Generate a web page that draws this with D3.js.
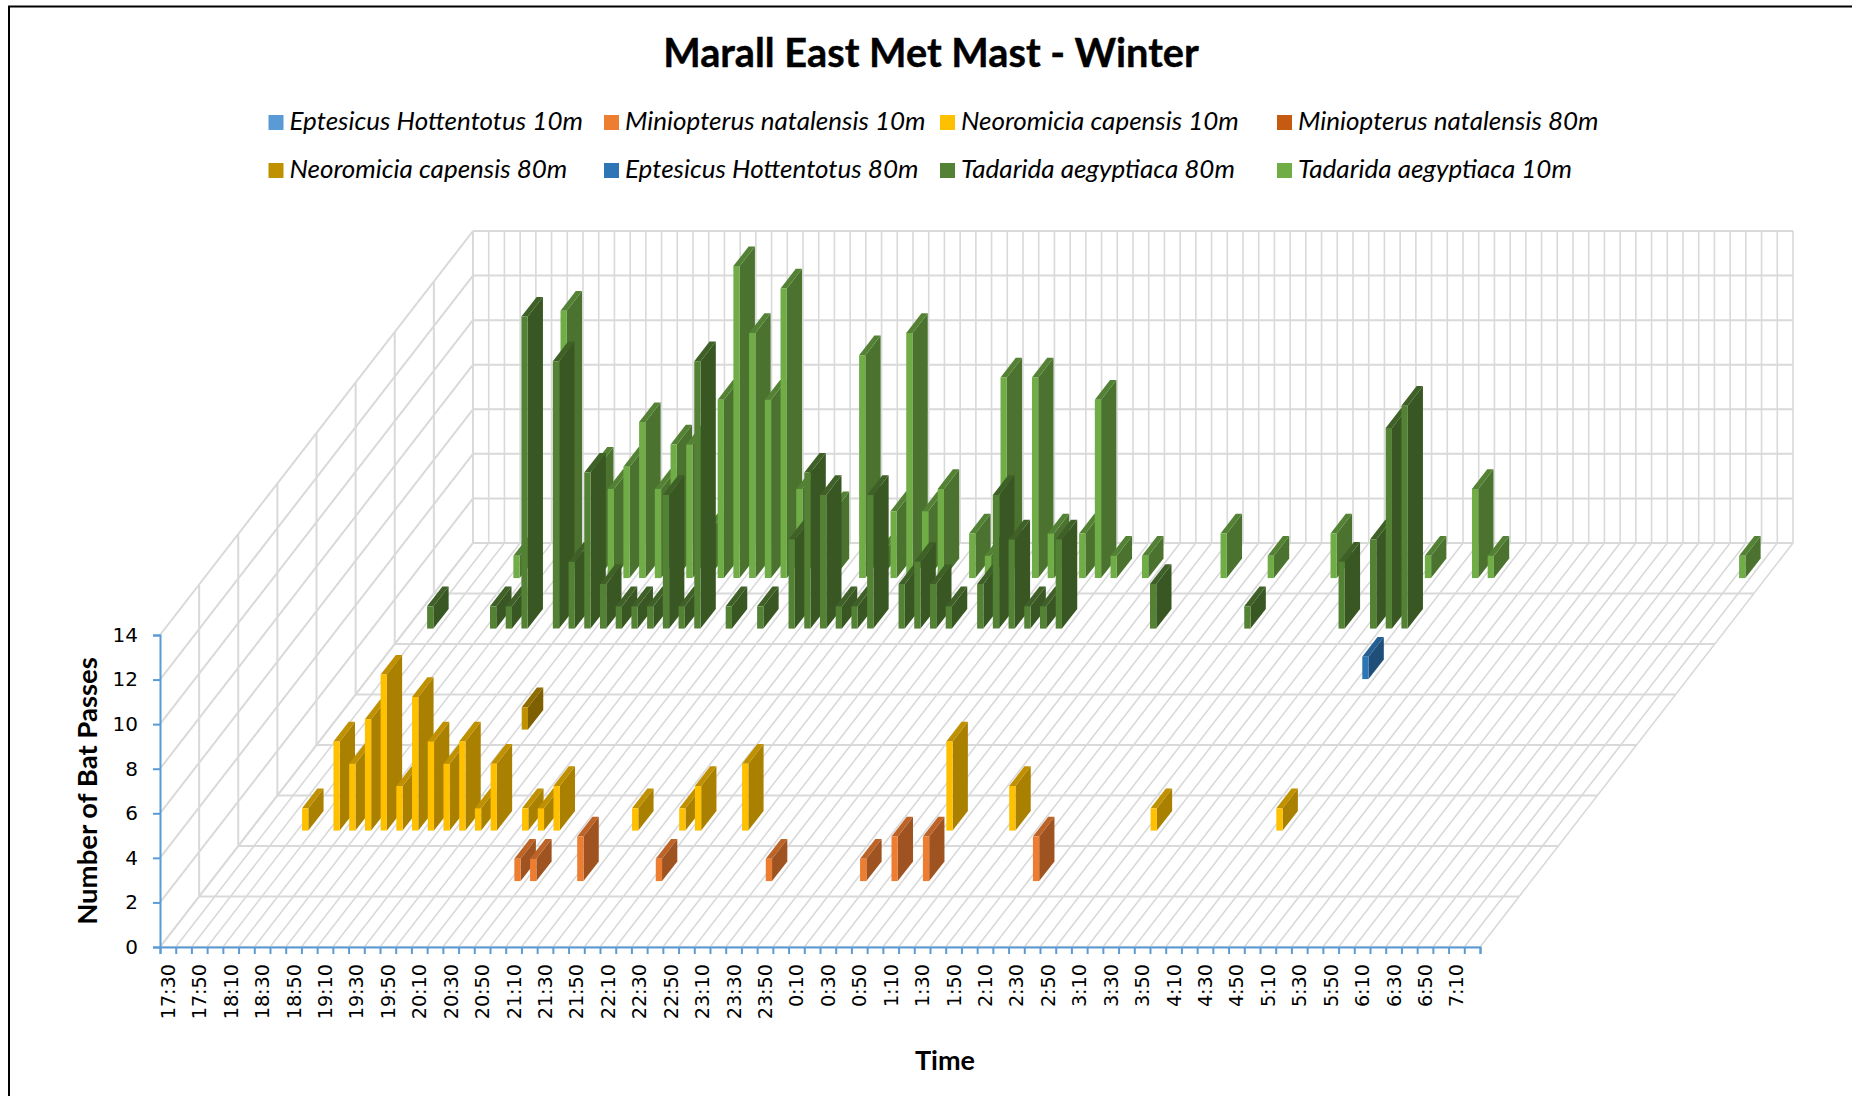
<!DOCTYPE html>
<html><head><meta charset="utf-8">
<style>html,body{margin:0;padding:0;background:#fff;overflow:hidden}svg{display:block}</style>
<script src="https://cdn.jsdelivr.net/npm/d3@7"></script></head>
<body><svg id="c" width="1852" height="1096"></svg>
<script>
const title = "Marall East Met Mast - Winter";
const labelsEvery2 = ["17:30","17:50","18:10","18:30","18:50","19:10","19:30","19:50","20:10","20:30","20:50","21:10","21:30","21:50","22:10","22:30","22:50","23:10","23:30","23:50","0:10","0:30","0:50","1:10","1:30","1:50","2:10","2:30","2:50","3:10","3:30","3:50","4:10","4:30","4:50","5:10","5:30","5:50","6:10","6:30","6:50","7:10"];
// [category index, passes] pairs
const eptesicus10 = [];
const miniopterus10 = [[19,1],[20,1],[23,2],[28,1],[35,1],[41,1],[43,2],[45,2],[52,2]];
const neoromicia10 = [[3,1],[5,4],[6,3],[7,5],[8,7],[9,2],[10,6],[11,4],[12,3],[13,4],[14,1],[15,3],[17,1],[18,1],[19,2],[24,1],[27,1],[28,2],[31,3],[44,4],[48,2],[57,1],[65,1]];
const miniopterus80 = [];
const neoromicia80 = [[12,1]];
const eptesicus80 = [[63,1]];
const tadarida80 = [[1,1],[5,1],[6,1],[7,14],[9,12],[10,3],[11,7],[12,2],[13,1],[14,1],[15,1],[16,6],[17,1],[18,12],[20,1],[22,1],[24,4],[25,7],[26,6],[27,1],[28,1],[29,6],[31,2],[32,3],[33,2],[34,1],[36,2],[37,6],[38,4],[39,1],[40,1],[41,4],[47,2],[53,1],[59,3],[61,4],[62,9],[63,10]];
const tadarida10 = [[4,1],[7,12],[9,5],[10,4],[11,5],[12,7],[13,4],[14,6],[15,6],[16,2],[17,8],[18,14],[19,11],[20,8],[21,13],[22,4],[24,3],[26,10],[27,1],[28,3],[29,11],[30,3],[31,4],[33,2],[34,1],[35,9],[37,9],[38,2],[40,2],[41,8],[42,1],[44,1],[49,2],[52,1],[56,2],[62,1],[65,4],[66,1],[82,1]];
const seriesNames = ["Eptesicus Hottentotus 10m","Miniopterus natalensis 10m","Neoromicia capensis 10m","Miniopterus natalensis 80m","Neoromicia capensis 80m","Eptesicus Hottentotus 80m","Tadarida aegyptiaca 80m","Tadarida aegyptiaca 10m"];
const seriesValues = [eptesicus10,miniopterus10,neoromicia10,miniopterus80,neoromicia80,eptesicus80,tadarida80,tadarida10];
const seriesFront = ["#5B9BD5","#ED7D31","#FFC000","#C55A11","#BF9000","#2E75B6","#548235","#70AD47"];
const seriesSide  = ["#3C6E9C","#9E5320","#AA8000","#833C0B","#7F6000","#1F4E79","#385723","#4B732F"];
const seriesTop   = ["#4A85BA","#BD6328","#BF9000","#9C470D","#8F6C00","#255E92","#3F6128","#548235"];
const gridColor = "#D9D9D9", axisColor = "#5B9BD5";
const categoryCount = 84;

// oblique projection: floor origin, width along x, depth vector, wall height
const ox = 160, oy = 947, plotW = 1320, plotH = 312, depthX = 313, depthY = 404;
const svg = d3.select("#c");
const xScale = d3.scaleBand().domain(d3.range(categoryCount)).range([0, plotW]);
const yScale = d3.scaleLinear().domain([0,14]).range([0, plotH]);
const dScale = d3.scaleLinear().domain([0,8]).range([0,1]);
const P = (x, v, d) => [ox + x + depthX*dScale(d), oy - yScale(v) - depthY*dScale(d)];
const line = (a,b) => ({a,b});

// frame
svg.append("path").attr("d","M9,1096V6.5H1852").attr("fill","none").attr("stroke","#000").attr("stroke-width",2);

// gridlines
const grid = [];
xScale.domain().concat([categoryCount]).forEach(i=>{
  const x = i*xScale.step();
  grid.push(line(P(x,0,0),P(x,0,8)));           // floor hatch
  if(i>0) grid.push(line(P(x,0,8),P(x,14,8)));  // back wall
});
const gridHeavy = [];
d3.range(0,9).forEach(d=>{
  gridHeavy.push(line(P(0,0,d),P(plotW,0,d)));  // floor rows
  if(d>0) gridHeavy.push(line(P(0,0,d),P(0,14,d)));  // side wall verticals
});
d3.range(0,15,2).forEach(v=>{
  gridHeavy.push(line(P(0,v,0),P(0,v,8)));      // side wall
  gridHeavy.push(line(P(0,v,8),P(plotW,v,8)));  // back wall
});
const g = svg.append("g").attr("fill","none").attr("stroke",gridColor);
g.selectAll(".h").data(grid).join("line").attr("stroke-width",1.6)
  .attr("x1",l=>l.a[0]).attr("y1",l=>l.a[1]).attr("x2",l=>l.b[0]).attr("y2",l=>l.b[1]);
g.selectAll(".w").data(gridHeavy).join("line").attr("class","w").attr("stroke-width",2)
  .attr("x1",l=>l.a[0]).attr("y1",l=>l.a[1]).attr("x2",l=>l.b[0]).attr("y2",l=>l.b[1]);

// bars (painted back row to front, left to right)
const barW = 0.4, barD = 0.39;
const pts = a => a.map(p=>p.join(",")).join(" ");
for(let s = seriesValues.length-1; s>=0; s--){
  seriesValues[s].forEach(([i,v])=>{
    const step = xScale.step();
    const x0 = xScale(i)+step*(0.5-barW/2), x1 = x0+step*barW;
    const d0 = s+(1-barD)/2, d1 = d0+barD;
    const b = svg.append("g");
    b.append("polygon").attr("points",pts([P(x1,0,d0),P(x1,0,d1),P(x1,v,d1),P(x1,v,d0)])).attr("fill",seriesSide[s]);
    b.append("polygon").attr("points",pts([P(x0,v,d0),P(x1,v,d0),P(x1,v,d1),P(x0,v,d1)])).attr("fill",seriesTop[s]);
    b.append("polygon").attr("points",pts([P(x0,0,d0),P(x1,0,d0),P(x1,v,d0),P(x0,v,d0)])).attr("fill",seriesFront[s]);
  });
}

// axes
const tickFont = "DejaVu Sans";
const yAxisScale = d3.scaleLinear().domain([0,14]).range([oy, oy-plotH]);
const yA = svg.append("g").attr("transform",`translate(${ox},0)`)
  .call(d3.axisLeft(yAxisScale).tickValues(d3.range(0,15,2)).tickSizeOuter(0).tickSize(7).tickPadding(15));
const xAxisScale = d3.scaleLinear().domain([0,categoryCount]).range([ox, ox+plotW]);
const xA = svg.append("g").attr("transform",`translate(0,${oy})`)
  .call(d3.axisBottom(xAxisScale).tickValues(d3.range(0,categoryCount+1)).tickFormat("").tickSizeOuter(0).tickSize(7));
[yA,xA].forEach(a=>{
  a.selectAll("path,line").attr("stroke",axisColor).attr("stroke-width",2);
  a.selectAll("text").attr("font-family",tickFont).attr("font-size",20).attr("fill","#000");
});
svg.append("g").selectAll("text").data(labelsEvery2).join("text")
  .attr("transform",(t,k)=>`translate(${xScale(k*2)+ox+xScale.step()/2+7},${oy+17}) rotate(-90) scale(0.96,1)`)
  .attr("text-anchor","end").attr("font-family",tickFont).attr("font-size",20).attr("fill","#000").text(t=>t);

// titles
svg.append("text").attr("x",931).attr("y",67).attr("text-anchor","middle")
  .attr("font-family","Lato").attr("font-weight",700).attr("font-size",39.7)
  .attr("stroke","#000").attr("stroke-width",0.4).text(title);
svg.append("text").attr("x",945).attr("y",1070).attr("text-anchor","middle")
  .attr("font-family","Lato").attr("font-weight",700).attr("font-size",27).text("Time");
svg.append("text").attr("transform","translate(97,791) rotate(-90)").attr("text-anchor","middle")
  .attr("font-family","Lato").attr("font-weight",700).attr("font-size",27.5).text("Number of Bat Passes");

// legend
const legX = [268.5,604,940,1277], legY = [115,163];
const lg = svg.append("g").selectAll("g").data(seriesNames).join("g")
  .attr("transform",(d,k)=>`translate(${legX[k%4]},${legY[Math.floor(k/4)]})`);
lg.append("rect").attr("width",15).attr("height",15).attr("fill",(d,k)=>seriesFront[k]);
lg.append("text").attr("x",21).attr("y",15).attr("font-family","Lato").attr("font-style","italic").attr("font-size",26).text(d=>d);
</script></body></html>
